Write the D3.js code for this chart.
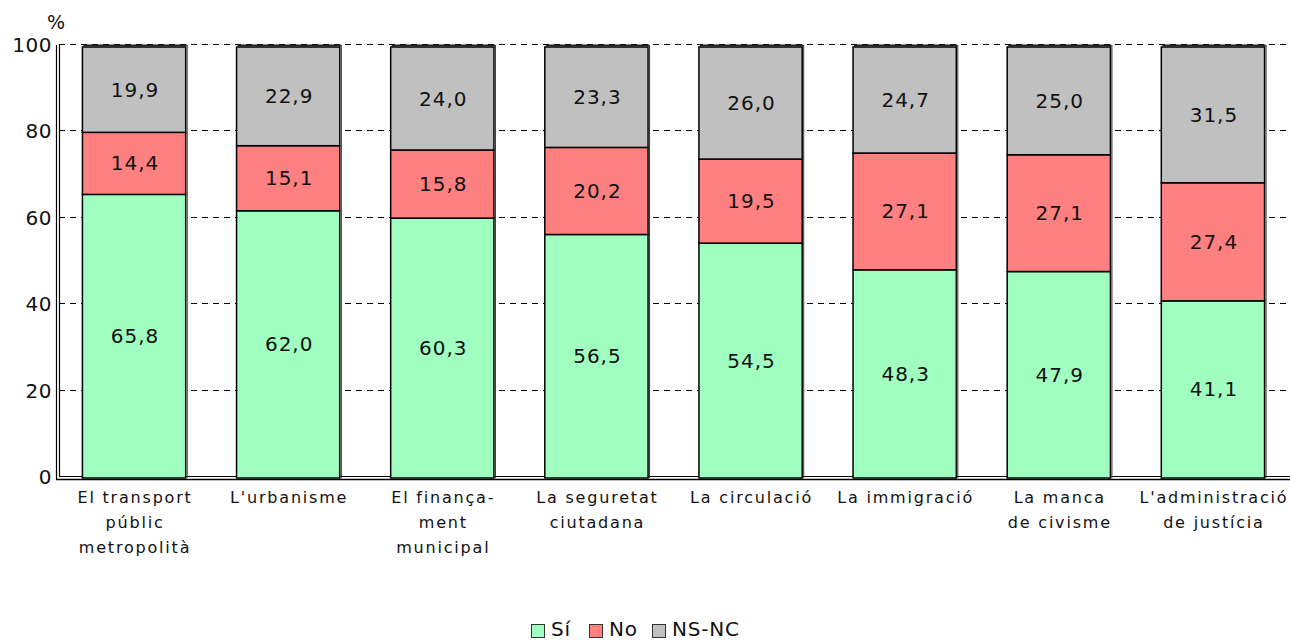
<!DOCTYPE html>
<html><head><meta charset="utf-8">
<script src="https://cdn.jsdelivr.net/npm/d3@7"></script>
<style>body{margin:0;background:#fff}svg{display:block}text{font-family:"DejaVu Sans",Verdana,sans-serif}</style>
</head><body><svg id="c" width="1290" height="642"></svg>
<script>
const categories = [["El transport","públic","metropolità"],["L'urbanisme"],["El finança-","ment","municipal"],["La seguretat","ciutadana"],["La circulació"],["La immigració"],["La manca","de civisme"],["L'administració","de justícia"]];
const si = [65.8,62.0,60.3,56.5,54.5,48.3,47.9,41.1];
const no = [14.4,15.1,15.8,20.2,19.5,27.1,27.1,27.4];
const nsnc = [19.9,22.9,24.0,23.3,26.0,24.7,25.0,31.5];
const seriesNames = ["Sí","No","NS-NC"];
const yTicks = [0,20,40,60,80,100];
const colors = ["#a0ffc0","#ff8080","#c0c0c0"];

const svg = d3.select("#c");
const x = d3.scaleBand().domain(d3.range(categories.length)).range([57,1290]).paddingInner(0.33).paddingOuter(0.165);
const yb = d3.scaleLinear().domain([0,100]).range([478,47]);   // bars (front)
const yg = d3.scaleLinear().domain([0,100]).range([476,44]);   // back wall grid
const fmt = v => v.toFixed(1).replace(".",",");

// grid
svg.append("g").selectAll("line").data(yTicks.filter(d=>d>0)).join("line")
  .attr("x1",59).attr("x2",1290).attr("y1",d=>Math.round(yg(d))+0.5).attr("y2",d=>Math.round(yg(d))+0.5)
  .attr("stroke","#000").attr("stroke-width",1).attr("stroke-dasharray","6,5");

// axis walls
svg.append("line").attr("x1",56.5).attr("x2",56.5).attr("y1",yg(100)+1).attr("y2",479).attr("stroke","#000").attr("stroke-width",1.2);
svg.append("line").attr("x1",59.5).attr("x2",59.5).attr("y1",yg(100)).attr("y2",476).attr("stroke","#000").attr("stroke-width",1.2);
svg.append("line").attr("x1",56).attr("x2",1290).attr("y1",479.5).attr("y2",479.5).attr("stroke","#000").attr("stroke-width",1.5);
svg.append("line").attr("x1",59).attr("x2",1290).attr("y1",476.5).attr("y2",476.5).attr("stroke","#000").attr("stroke-width",1.2);

// stacks
const rows = categories.map((c,i)=>({i, v:[si[i],no[i],nsnc[i]]}));
const g = svg.append("g");
rows.forEach(r=>{
  let acc=0;
  r.v.forEach((v,k)=>{
    const y0=acc, y1=Math.min(100,acc+v); acc+=v;
    g.append("rect").attr("x",x(r.i)).attr("width",x.bandwidth())
      .attr("y",yb(y1)).attr("height",yb(y0)-yb(y1))
      .attr("fill",colors[k]).attr("stroke","#000").attr("stroke-width",1.5);
    g.append("text").attr("x",x(r.i)+x.bandwidth()/2+1).attr("y",(yb(y0)+yb(y1))/2+7)
      .attr("text-anchor","middle").attr("font-size",20).attr("letter-spacing",1).attr("fill","#111").text(fmt(v));
  });
  // 3D top edge
  g.append("line").attr("x1",x(r.i)+1).attr("x2",x(r.i)+x.bandwidth()+1).attr("y1",yb(100)-1.5).attr("y2",yb(100)-1.5).attr("stroke","#222").attr("stroke-width",2);
  g.append("line").attr("x1",x(r.i)+x.bandwidth()+1.5).attr("x2",x(r.i)+x.bandwidth()+1.5).attr("y1",yb(100)-2).attr("y2",yb(0)).attr("stroke","#333").attr("stroke-width",1);
});

// y ticks
svg.append("g").selectAll("text").data(yTicks).join("text")
  .attr("x",52).attr("y",d=>yg(d)+8).attr("text-anchor","end").attr("font-size",20).attr("letter-spacing",0.5).attr("fill","#111").text(d=>d);
svg.append("text").attr("x",47).attr("y",29).attr("font-size",19).attr("fill","#111").text("%");

// x labels
svg.append("g").selectAll("text").data(categories).join("text")
  .attr("text-anchor","middle").attr("font-size",16).attr("letter-spacing",1.8).attr("fill","#111")
  .each(function(lines,i){
    d3.select(this).selectAll("tspan").data(lines).join("tspan")
      .attr("x",x(i)+x.bandwidth()/2+1).attr("y",(d,j)=>503+j*25).text(d=>d);
  });

// legend
const leg = svg.append("g");
const lx=[531,589,652];
seriesNames.forEach((n,k)=>{
  leg.append("rect").attr("x",lx[k]+0.5).attr("y",624.5).attr("width",13).attr("height",13).attr("fill",colors[k]).attr("stroke","#333").attr("stroke-width",1);
  leg.append("text").attr("x",lx[k]+20).attr("y",636).attr("font-family","'Liberation Sans',Arial,sans-serif").attr("font-size",20).attr("letter-spacing",0.8).attr("fill","#111").text(n);
});
</script></body></html>
